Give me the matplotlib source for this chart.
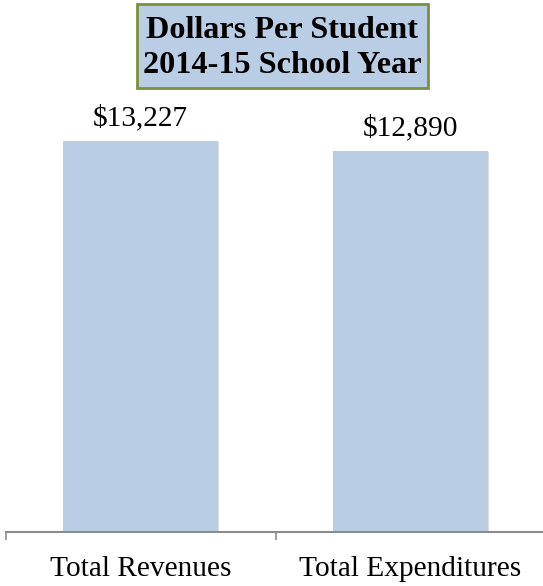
import matplotlib
matplotlib.use("Agg")
import matplotlib.pyplot as plt
import matplotlib.patheffects as pe
from matplotlib.patches import Rectangle
import numpy as np

categories = ["Total Revenues", "Total Expenditures"]
values = [13227, 12890]
value_labels = ["$13,227", "$12,890"]
title_lines = ["Dollars Per Student", "2014-15 School Year"]

plt.rcParams['font.family'] = ['Liberation Serif', 'DejaVu Serif']

fig = plt.figure(figsize=(5.43, 5.86), dpi=100)
W, H = 543, 586
ax = fig.add_axes([5.5 / W, (H - 532) / H, 540 / W, 532 / H])
x = np.arange(len(categories))
bars = ax.bar(x, values, width=0.574, color="#B9CDE5", edgecolor="none", zorder=2)
for b in bars:
    b.set_path_effects([pe.SimplePatchShadow(offset=(1.0, -0.8), shadow_rgbFace="#a0a0a0", alpha=0.35), pe.Normal()])

ax.set_xlim(-0.5, 1.5)
ax.set_ylim(0, 18000)
for s in ["top", "right", "left"]:
    ax.spines[s].set_visible(False)
ax.spines["bottom"].set_color("#8c8c8c")
ax.spines["bottom"].set_linewidth(1.5)
ax.set_yticks([])
ax.set_xticks([-0.5, 0.5, 1.5])
ax.set_xticklabels([])
ax.set_xticks(x, minor=True)
ax.set_xticklabels(categories, minor=True, fontsize=21.2)
ax.tick_params(axis="x", which="major", direction="out", length=6, width=1.2, color="#8c8c8c")
ax.tick_params(axis="x", which="minor", length=0, pad=17)

for xi, v, lab in zip(x, values, value_labels):
    ax.annotate(lab, (xi, v), xytext=(0, 7), textcoords="offset points",
                ha="center", va="bottom", fontsize=21.2)

# title box
fig.patches.append(Rectangle((137 / W, 1 - 88 / H), (428 - 137) / W, 84 / H,
                             transform=fig.transFigure, facecolor="#B9CDE5",
                             edgecolor="#77933C", linewidth=2, zorder=3))
fig.text(282.5 / W, 1 - 48 / H, "\n".join(title_lines), ha="center", va="center",
         fontsize=23.2, fontweight="bold", linespacing=1.26, zorder=4)

fig.savefig("out.png", dpi=100)
